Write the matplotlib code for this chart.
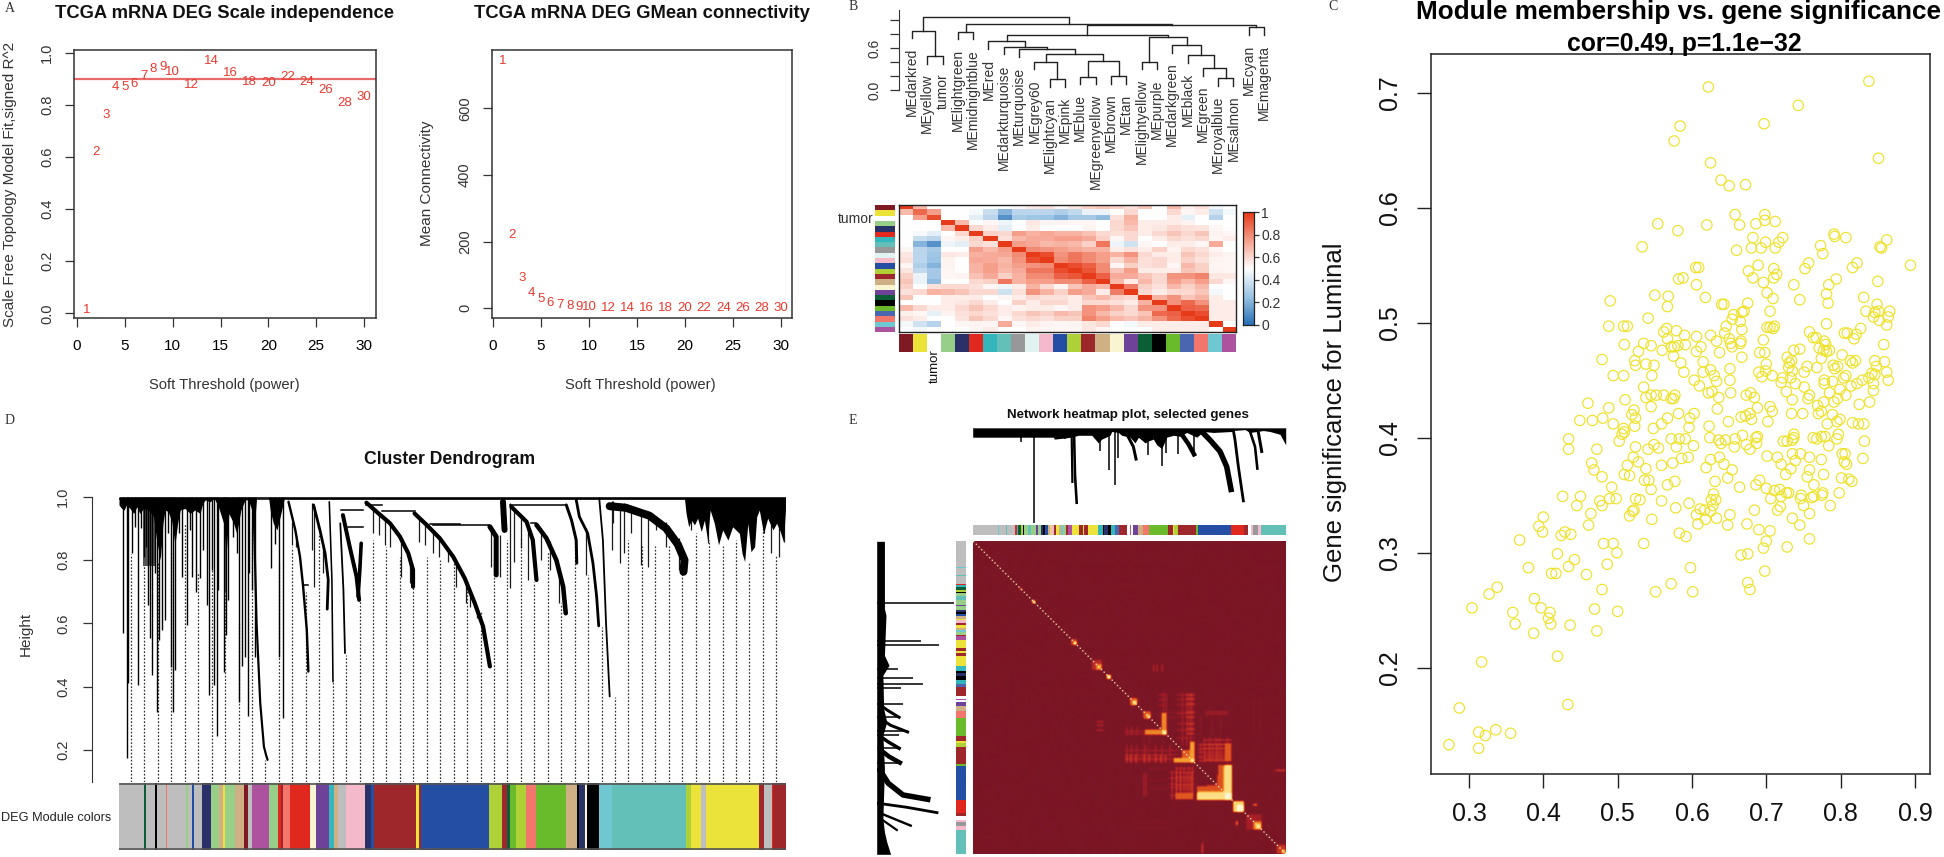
import numpy as np
import matplotlib
matplotlib.use('Agg')
import matplotlib.pyplot as plt
from matplotlib.colors import LinearSegmentedColormap

plt.rcParams['font.family'] = ['Liberation Sans', 'DejaVu Sans']
plt.rcParams['text.color'] = '#1a1a1a'

W, H = 1944, 857
PX = 72 / 100

# ---- panel A
powers = [1, 2, 3, 4, 5, 6, 7, 8, 9, 10, 12, 14, 16, 18, 20, 22, 24, 26, 28, 30]
sft_r2 = [0.014, 0.618, 0.76, 0.867, 0.867, 0.88, 0.91, 0.939, 0.945, 0.926, 0.877, 0.967,
          0.922, 0.889, 0.884, 0.907, 0.887, 0.855, 0.806, 0.831]
mean_k = [741, 220, 92, 47, 28, 15, 10, 7, 3, 3, 2, 1, 1, 0, 0, 0, 0, 0, 0, 0]

# ---- panel B
me_names = ['MEdarkred', 'MEyellow', 'tumor', 'MElightgreen', 'MEmidnightblue', 'MEred',
            'MEdarkturquoise', 'MEturquoise', 'MEgrey60', 'MElightcyan', 'MEpink', 'MEblue',
            'MEgreenyellow', 'MEbrown', 'MEtan', 'MElightyellow', 'MEpurple', 'MEdarkgreen',
            'MEblack', 'MEgreen', 'MEroyalblue', 'MEsalmon', 'MEcyan', 'MEmagenta']
# left node, right node, height (new nodes are numbered from 24)
me_merges = [(1, 2, .486), (0, 24, .848), (3, 4, .833), (22, 23, .895), (9, 10, .152),
             (8, 28, .405), (11, 12, .19), (13, 14, .2), (30, 31, .414), (29, 32, .514),
             (7, 33, .581), (6, 34, .619), (5, 35, .695), (15, 16, .405), (20, 21, .167),
             (19, 38, .31), (18, 39, .5), (17, 40, .643), (37, 41, .752), (36, 42, .786),
             (43, 27, .929), (26, 44, .943), (25, 45, 1.048)]
module_colors = {'grey': '#BEBEBE', 'darkgreen': '#0B5E35', 'salmon': '#F2766B', 'lightgreen': '#98CF88',
                 'midnightblue': '#2A3168', 'blue': '#234EA3', 'tan': '#CFAF84', 'yellow': '#ECE33A',
                 'darkred': '#7F1A25', 'magenta': '#AD529F', 'red': '#E0281F', 'brown': '#9E272B',
                 'lightyellow': '#F9F5D3', 'purple': '#6F429A', 'darkturquoise': '#33B6BC',
                 'turquoise': '#62C0B8', 'grey60': '#989898', 'lightcyan': '#E0F2F2', 'pink': '#F5B9CC',
                 'greenyellow': '#ADD136', 'green': '#69BB2C', 'black': '#000000', 'royalblue': '#4A66B1',
                 'cyan': '#6FC7D2', 'white': '#FFFFFF'}
heat_colors = ['darkred', 'yellow', 'white', 'lightgreen', 'midnightblue', 'red', 'darkturquoise',
               'turquoise', 'grey60', 'lightcyan', 'pink', 'blue', 'greenyellow', 'brown', 'tan',
               'lightyellow', 'purple', 'darkgreen', 'black', 'green', 'royalblue', 'salmon', 'cyan', 'magenta']
# upper triangle of the adjacency heatmap, one row each
adj_rows = [
    [1, .68, .5, .5, .5, .5, .5, .5, .52, .56, .58, .52, .57, .62, .65, .62, .58, .65, .5, .68, .54, .58, .47, .5],
    [.88, .75, .5, .5, .48, .36, .2, .33, .33, .33, .3, .34, .45, .45, .5, .6, .5, .5, .6, .52, .55, .38, .47],
    [.95, .5, .5, .43, .33, .1, .28, .26, .25, .2, .27, .27, .23, .58, .7, .5, .5, .55, .44, .5, .32, .5],
    [1, .68, .5, .52, .46, .5, .56, .53, .53, .52, .52, .5, .6, .68, .55, .55, .55, .53, .5, .5, .5],
    [1, .6, .55, .43, .5, .55, .5, .5, .5, .53, .5, .6, .65, .55, .56, .6, .58, .57, .52, .5],
    [1, .62, .6, .75, .7, .73, .7, .7, .66, .6, .58, .6, .55, .6, .65, .6, .65, .53, .52],
    [1, .58, .68, .72, .72, .75, .75, .72, .62, .52, .6, .5, .55, .6, .58, .6, .52, .55],
    [1, .75, .73, .68, .7, .68, .62, .85, .46, .38, .52, .5, .55, .55, .52, .72, .5],
    [1, .8, .78, .75, .72, .7, .7, .55, .58, .55, .62, .53, .6, .58, .52, .5],
    [1, .95, .78, .85, .8, .75, .7, .78, .6, .55, .55, .65, .6, .55, .53],
    [1, .8, .85, .8, .75, .6, .7, .58, .6, .55, .62, .58, .53, .52],
    [1, .95, .9, .8, .52, .62, .58, .6, .52, .68, .62, .52, .52],
    [1, .93, .8, .65, .75, .55, .55, .55, .65, .62, .53, .52],
    [1, .9, .72, .72, .65, .6, .78, .78, .82, .56, .56],
    [1, .68, .55, .68, .6, .75, .68, .75, .6, .52],
    [1, .83, .62, .58, .68, .62, .68, .5, .5],
    [1, .6, .55, .6, .6, .65, .47, .5],
    [1, .7, .78, .65, .7, .55, .5],
    [1, .78, .88, .78, .55, .55],
    [1, .9, .88, .55, .55],
    [1, .95, .55, .55],
    [1, .55, .55],
    [1, .5],
    [1],
]

# ---- panel C, (module membership, gene significance)
mm_gs = [
    (.622, .705), (.838, .710), (.743, .689), (.697, .673), (.584, .671), (.576, .658), (.851, .643), (.625, .639),
    (.639, .624), (.650, .619), (.672, .620), (.658, .594), (.698, .594), (.712, .588), (.698, .589), (.686, .586),
    (.664, .585), (.620, .585), (.554, .586), (.581, .580), (.791, .577), (.792, .575), (.807, .574), (.862, .572),
    (.853, .566), (.855, .565), (.773, .567), (.776, .560), (.722, .574), (.717, .570), (.712, .565), (.693, .565),
    (.680, .565), (.682, .574), (.699, .570), (.660, .563), (.533, .566), (.894, .550), (.822, .552), (.816, .548),
    (.757, .552), (.752, .547), (.689, .550), (.676, .545), (.682, .539), (.696, .535), (.710, .547), (.714, .542),
    (.710, .539), (.605, .548), (.609, .548), (.582, .538), (.588, .539), (.606, .533), (.794, .538), (.784, .533),
    (.850, .536), (.737, .533), (.701, .526), (.709, .521), (.781, .525), (.745, .520), (.783, .517), (.831, .522),
    (.550, .524), (.568, .523), (.567, .514), (.618, .522), (.490, .519), (.640, .516), (.643, .516), (.675, .517),
    (.670, .510), (.667, .509), (.705, .510), (.849, .516), (.834, .510), (.846, .509), (.851, .510), (.866, .510),
    (.844, .505), (.864, .505), (.852, .502), (.862, .498), (.656, .507), (.654, .503), (.665, .501), (.541, .504),
    (.488, .497), (.508, .497), (.513, .497), (.781, .499), (.827, .495), (.821, .490), (.818, .486), (.805, .491),
    (.809, .491), (.758, .492), (.858, .481), (.711, .497), (.705, .496), (.701, .496), (.709, .495), (.667, .494),
    (.646, .497), (.644, .491), (.566, .495), (.562, .492), (.579, .493), (.590, .489), (.606, .488), (.625, .489),
    (.567, .486), (.650, .486), (.652, .482), (.633, .484), (.591, .481), (.654, .479), (.666, .484), (.665, .482),
    (.696, .485), (.535, .482), (.545, .480), (.509, .481), (.572, .479), (.581, .480), (.576, .479), (.612, .479),
    (.606, .475), (.560, .476), (.528, .475), (.637, .474), (.691, .474), (.698, .474), (.745, .477), (.737, .476),
    (.763, .487), (.767, .487), (.778, .484), (.780, .481), (.771, .478), (.777, .476), (.785, .476), (.781, .475),
    (.774, .469), (.802, .472), (.667, .470), (.575, .471), (.479, .468), (.523, .467), (.524, .463), (.538, .464),
    (.549, .463), (.585, .465), (.615, .466), (.728, .470), (.734, .467), (.731, .465), (.730, .461), (.735, .458),
    (.700, .464), (.755, .462), (.768, .461), (.790, .463), (.792, .460), (.796, .462), (.813, .467), (.820, .467),
    (.816, .465), (.846, .467), (.859, .466), (.848, .462), (.862, .457), (.864, .450), (.651, .460), (.625, .459),
    (.615, .457), (.589, .457), (.546, .454), (.508, .454), (.494, .454), (.690, .457), (.699, .458), (.694, .453),
    (.708, .454), (.751, .457), (.630, .454), (.633, .449), (.651, .450), (.603, .450), (.610, .445), (.722, .452),
    (.733, .452), (.720, .448), (.739, .447), (.751, .444), (.778, .450), (.778, .447), (.789, .449), (.807, .454),
    (.804, .452), (.822, .447), (.829, .450), (.814, .445), (.838, .452), (.842, .456), (.846, .455), (.844, .447),
    (.844, .441), (.799, .442), (.785, .439), (.807, .437), (.796, .434), (.791, .431), (.777, .431), (.839, .431),
    (.825, .429), (.727, .440), (.735, .433), (.758, .437), (.756, .434), (.627, .440), (.622, .439), (.636, .435),
    (.652, .439), (.673, .437), (.679, .439), (.684, .435), (.634, .425), (.535, .444), (.538, .435), (.545, .437),
    (.552, .437), (.562, .437), (.572, .434), (.577, .437), (.575, .434), (.510, .433), (.460, .430), (.488, .426),
    (.545, .427), (.522, .424), (.519, .420), (.524, .417), (.449, .415), (.466, .415), (.480, .417), (.494, .412),
    (.508, .408), (.523, .410), (.548, .408), (.559, .412), (.567, .417), (.582, .421), (.603, .421), (.597, .417),
    (.596, .409), (.623, .410), (.649, .414), (.666, .418), (.672, .419), (.678, .421), (.680, .416), (.688, .426),
    (.705, .427), (.708, .423), (.702, .414), (.734, .421), (.749, .421), (.769, .428), (.770, .421), (.774, .423),
    (.789, .420), (.799, .416), (.795, .414), (.782, .412), (.816, .413), (.824, .412), (.831, .412), (.434, .399),
    (.434, .390), (.472, .390), (.502, .397), (.506, .403), (.509, .405), (.524, .392), (.541, .390), (.549, .394),
    (.555, .391), (.572, .399), (.583, .399), (.591, .399), (.579, .392), (.602, .393), (.624, .400), (.636, .398),
    (.639, .395), (.645, .398), (.658, .399), (.657, .392), (.668, .402), (.673, .394), (.678, .390), (.686, .400),
    (.688, .401), (.687, .395), (.723, .397), (.728, .397), (.735, .398), (.737, .400), (.737, .403), (.763, .400),
    (.768, .399), (.774, .401), (.779, .401), (.795, .399), (.797, .403), (.784, .393), (.832, .397), (.802, .386),
    (.806, .386), (.805, .379), (.808, .377), (.830, .382), (.774, .381), (.758, .383), (.746, .386), (.735, .386),
    (.739, .380), (.720, .377), (.715, .383), (.701, .384), (.733, .373), (.726, .368), (.758, .372), (.755, .366),
    (.777, .368), (.764, .359), (.801, .365), (.811, .364), (.815, .362), (.798, .352), (.786, .341), (.775, .350),
    (.776, .352), (.764, .349), (.761, .348), (.746, .347), (.747, .350), (.750, .341), (.758, .334), (.745, .324),
    (.758, .312), (.735, .330), (.730, .352), (.727, .352), (.720, .349), (.718, .355), (.711, .354), (.700, .356),
    (.706, .347), (.719, .340), (.715, .337), (.691, .363), (.686, .359), (.664, .357), (.684, .337), (.674, .325),
    (.690, .320), (.705, .319), (.700, .310), (.696, .304), (.728, .305), (.675, .299), (.666, .298), (.698, .284),
    (.675, .274), (.678, .268), (.598, .287), (.601, .266), (.572, .273), (.551, .266), (.592, .314), (.583, .317),
    (.535, .308), (.648, .324), (.633, .330), (.651, .333), (.629, .351), (.626, .346), (.632, .346), (.628, .341),
    (.625, .336), (.618, .329), (.608, .325), (.606, .333), (.611, .338), (.617, .337), (.596, .343), (.578, .339),
    (.559, .345), (.546, .329), (.516, .332), (.520, .336), (.522, .337), (.524, .347), (.530, .346), (.545, .355),
    (.536, .363), (.542, .363), (.538, .373), (.528, .379), (.521, .383), (.513, .376), (.509, .368), (.516, .367),
    (.559, .376), (.574, .378), (.586, .382), (.595, .383), (.567, .359), (.577, .362), (.619, .374), (.625, .381),
    (.637, .383), (.643, .377), (.654, .372), (.631, .362), (.648, .365), (.465, .378), (.468, .372), (.479, .366),
    (.492, .357), (.426, .349), (.450, .349), (.445, .341), (.464, .334), (.476, .345), (.479, .341), (.489, .347),
    (.498, .347), (.461, .324), (.400, .331), (.394, .323), (.399, .318), (.429, .318), (.424, .315), (.437, .316),
    (.368, .311), (.481, .308), (.494, .308), (.499, .300), (.419, .299), (.442, .294), (.434, .288), (.380, .287),
    (.486, .290), (.411, .282), (.417, .282), (.458, .281), (.479, .268), (.338, .270), (.327, .264), (.388, .260),
    (.397, .252), (.304, .252), (.359, .248), (.362, .238), (.409, .248), (.407, .243), (.410, .238), (.436, .237),
    (.469, .251), (.500, .249), (.472, .232), (.387, .230), (.419, .210), (.317, .205), (.287, .165), (.433, .168),
    (.313, .144), (.336, .146), (.356, .143), (.322, .141), (.273, .133), (.313, .130),
]

# ---- panel D, positions run along the gene order
dend_spike_pos = [235, 242, 245, 251, 258, 264, 269, 274, 279, 283, 286, 291, 295, 300, 304, 309, 315, 320, 326, 331,
                  335, 341, 347, 357, 363, 366, 374, 382, 387, 395, 399, 404, 409, 414, 417, 427, 432, 435, 444, 452,
                  457, 462, 468, 473, 476, 481, 487, 517, 525, 532, 540]
dend_spike_low = [.569, .175, .413, .821, .905, .405, .90, .81, .842, .658, .553, .437, .758, .319, .548, .579, .611,
                  .884, .462, .319, .453, .884, .748, .595, .895, .748, .70, .742, .832, .658, .374, .769, .406, .243,
                  .705, .446, .564, .674, .874, .821, .353, .464, .495, .306, .758, .705, .495, .775, .85, .495, .30]
dend_band_pos = [227, 232, 237, 241, 248, 255, 261, 267, 274, 283, 293, 299, 306, 311, 315, 321, 328, 334, 339, 344,
                 353, 363, 372, 382, 387, 392, 401, 409, 417, 427, 432, 437, 446, 452, 460, 468, 474, 481, 485, 490,
                 513, 516, 522, 529, 538, 543, 551, 1308, 1311, 1316, 1321, 1327, 1333, 1340, 1346, 1352, 1357, 1365,
                 1373, 1381, 1391, 1400, 1413, 1418, 1423, 1429, 1435, 1442, 1446, 1451, 1459, 1467, 1477, 1484, 1491,
                 1497, 1501]
dend_band_low = [.974, .963, .958, .974, .963, .947, .968, .947, .963, .958, .937, .863, .80, .916, .958, .953, .921,
                 .848, .916, .958, .963, .947, .958, .947, .979, .99, .984, .995, .968, .916, .821, .947, .916, .884,
                 .958, .99, .99, .958, .895, .996, .996, .958, .916, .895, .958, .995, .993, .993, .947, .905, .926,
                 .911, .932, .89, .926, .863, .958, .916, .848, .895, .863, .905, .884, .821, .795, .916, .826, .842,
                 .937, .958, .884, .932, .895, .916, .89, .858, .958]
# thin hairs under the drooping branches
hair_pos = [557, 565, 595, 600, 608, 616, 713, 724, 735, 745, 767, 783, 800, 811, 827, 839, 856, 871, 891, 897, 911,
            939, 955, 974, 983, 996, 1009, 1034, 1050, 1069, 1119, 1171, 1169, 1184, 1193, 1206, 1225, 1238, 1254,
            1272, 1286, 1298, 1321, 1352, 1459, 1473, 1489, 1498]
hair_top = [.92, .88, .98, .97, .92, .85, .96, .95, .93, .916, .87, .80, .935, .915, .89, .87, .83, .80, .73, .71, .65,
            .90, .88, .98, .96, .94, .92, .885, .86, .76, .90, .985, .985, .98, .98, .97, .96, .955, .94, .92, .89,
            .87, .95, .95, .95, .95, .95, .95]
hair_low = [.848, .842, .832, .716, .90, .758, .884, .879, .848, .842, .748, .727, .858, .848, .821, .81, .795, .716,
            .664, .653, .616, .779, .748, .711, .795, .837, .737, .80, .769, .664, .753, .916, .832, .79, .821, .884,
            .784, .779, .895, .842, .874, .769, .895, .853, .884, .821, .81, .858]
# drooping branches: (positions), (heights), thickness in px
dend_arcs = [
    ([484, 490, 497, 504, 508, 511], [.99, .60, .348, .211, .185, .169], 2.2),
    ([551, 564, 573, 579, 586, 589], [.984, .895, .81, .716, .579, .448], 2.4),
    ([599, 611, 621, 627, 625], [.974, .895, .821, .737, .645], 2.8),
    ([629, 634, 636], [.984, .737, .416], 1.6),
    ([650, 656, 659], [.916, .705, .506], 1.8),
    ([655, 668, 681, 686], [.942, .842, .748, .674], 4.0),
    ([690, 687, 684], [.853, .758, .685], 3.6),
    ([700, 719, 745, 764, 780, 789, 789], [.981, .953, .916, .874, .821, .769, .716], 4.2),
    ([792, 815, 840, 866, 888, 907, 923, 936], [.947, .911, .869, .81, .742, .664, .59, .464], 4.2),
    ([936, 948, 948], [.905, .874, .753], 5.0),
    ([961, 964], [.984, .895], 6.0),
    ([977, 1006, 1018, 1025], [.968, .921, .863, .737], 4.2),
    ([1025, 1044, 1063, 1076, 1081], [.911, .869, .80, .716, .632], 4.6),
    ([1082, 1092, 1101, 1102], [.974, .926, .863, .79], 3.0),
    ([1101, 1107, 1123, 1133, 1140, 1144], [.99, .937, .884, .79, .685, .592], 2.8),
    ([1145, 1152, 1158, 1165], [.995, .863, .60, .369], 1.8),
    ([1165, 1196, 1241, 1273, 1295, 1308, 1306], [.97, .965, .94, .90, .85, .80, .763], 8.0),
]
dend_links = [(227, 1500, .994), (652, 694, .958), (665, 694, .905), (729, 792, .956), (821, 878, .914),
              (827, 934, .911), (974, 1082, .974), (1015, 1025, .916), (1397, 1445, .979), (1407, 1442, .953),
              (579, 589, .722), (700, 729, .975)]
dend_hatch = [(272, 296, .98, .78), (427, 434, .98, .70)]
guide_top = [.82, .82, .795, .83, .916, .76, .77, .70, .60, .90, .17, .79, .84, .70, .88, .42, .50,
             .674, .863, .84, .81, .716, .81, .80, .79, .737, .64, .81, .863, .874, .73, .83, .664, .88,
             .753, .59, .369, .863, .843, .843, .843, .769, .884, .863, .843, .863, .795, .905, .816, .853]
dend_bar_end = [275, 278, 296, 299, 317, 319, 355, 358, 367, 370, 386, 402, 418, 425, 430, 448, 465, 474, 482, 513,
                530, 536, 540, 553, 592, 603, 628, 638, 645, 660, 672, 698, 708, 715, 795, 800, 805, 935, 960, 968,
                975, 985, 1005, 1025, 1082, 1102, 1107, 1118, 1122, 1145, 1170, 1310, 1320, 1340, 1350, 1450, 1460,
                1475, 1478, 1502]
dend_bar_col = ['grey', 'darkgreen', 'grey', 'black', 'grey', 'salmon', 'grey', 'lightgreen', 'grey', 'blue', 'grey',
                'midnightblue', 'lightgreen', 'tan', 'yellow', 'lightgreen', 'tan', 'darkred', 'grey', 'magenta',
                'lightgreen', 'red', 'brown', 'salmon', 'red', 'lightyellow', 'purple', 'darkturquoise', 'tan', 'grey',
                'pink', 'pink', 'midnightblue', 'blue', 'brown', 'yellow', 'brown', 'blue', 'greenyellow', 'brown',
                'darkgreen', 'green', 'greenyellow', 'salmon', 'green', 'tan', 'black', 'midnightblue', 'lightyellow',
                'black', 'cyan', 'turquoise', 'greenyellow', 'yellow', 'grey', 'yellow', 'brown', 'grey', 'red', 'brown']

# ---- panel E, positions run 458..1397 along both sides
e_bar_end = [535, 538, 558, 561, 585, 590, 595, 603, 610, 613, 623, 633, 648, 653, 663, 670, 676, 683, 690, 694, 703,
             708, 718, 723, 730, 738, 743, 755, 778, 788, 793, 803, 808, 833, 848, 853, 863, 873, 886, 896, 922, 930,
             934, 940, 953, 968, 988, 1005, 1043, 1058, 1063, 1075, 1090, 1127, 1133, 1233, 1273, 1283, 1293, 1300,
             1313, 1323, 1397]
e_bar_col = ['grey', 'cyan', 'grey', 'turquoise', 'grey', 'red', 'darkturquoise', 'darkgreen', 'greenyellow', 'black',
             'lightgreen', 'turquoise', 'lightgreen', 'purple', 'lightgreen', 'midnightblue', 'black', 'blue', 'tan',
             'yellow', 'pink', 'brown', 'yellow', 'tan', 'cyan', 'lightgreen', 'brown', 'magenta', 'yellow', 'brown',
             'yellow', 'brown', 'yellow', 'yellow', 'darkturquoise', 'black', 'midnightblue', 'black', 'darkturquoise',
             'royalblue', 'brown', 'white', 'magenta', 'white', 'purple', 'tan', 'salmon', 'green', 'green', 'brown',
             'yellow', 'greenyellow', 'brown', 'brown', 'green', 'blue', 'red', 'brown', 'white', 'pink', 'grey60',
             'pink', 'turquoise']
top_band_pos = [458, 700, 703, 730, 752, 775, 815, 820, 835, 845, 870, 875, 895, 905, 930, 945, 955, 975, 985, 1000,
                1010, 1025, 1040, 1060, 1080, 1100, 1130, 1150, 1180, 1235, 1238, 1275, 1290, 1330, 1350, 1380, 1397]
top_band_low = [.10, .10, .12, .11, .10, .08, .08, .10, .16, .12, .08, .04, .05, .08, .10, .16, .10, .16, .14, .12,
                .18, .22, .10, .08, .09, .05, .10, .04, .05, .04, .03, .02, .05, .03, .04, .07, .18]
top_spike_pos = [603, 641, 735, 840, 868, 885, 895, 985, 1027, 1037, 1075, 1122]
top_spike_low = [.154, 1.0, .12, .25, .45, .60, .32, .29, .40, .27, .28, .29]
top_arcs = [([755, 757], [.10, .57], 2.2), ([762, 765, 770], [.05, .50, .79], 2.6),
            ([925, 940, 948], [.10, .20, .33], 3.0), ([1085, 1105, 1122], [.07, .17, .28], 4.5),
            ([1145, 1170, 1200, 1220, 1233], [.04, .13, .25, .41, .65], 5.5),
            ([1240, 1245, 1255, 1270], [.03, .13, .41, .77], 2.8),
            ([1290, 1305, 1312], [.04, .20, .43], 2.6), ([1315, 1325], [.05, .25], 3.0)]
left_band_pos = [458, 660, 680, 800, 830, 860, 960, 1000, 1040, 1140, 1290, 1330, 1360, 1397]
left_band_low = [.10, .10, .12, .10, .16, .08, .09, .13, .08, .10, .08, .10, .13, .18]
left_spike_pos = [644, 756, 769, 842, 869, 887, 899, 947, 986, 1027, 1039, 1079, 1122]
left_spike_low = [1.0, .57, .80, .27, .47, .60, .32, .34, .29, .40, .29, .29, .30]
left_arcs = [([1144, 1184, 1219, 1232], [.04, .15, .34, .66], 5.5),
             ([1244, 1256, 1272], [.02, .39, .78], 2.8), ([1274, 1311], [.05, .44], 2.4), ([1290, 1324], [.05, .26], 2.2),
             ([1044, 1060, 1079], [.05, .15, .29], 3.5), ([1084, 1104, 1122], [.05, .16, .30], 4.5),
             ([990, 1010, 1030], [.05, .18, .40], 3.0), ([950, 965, 986], [.05, .14, .29], 3.0)]
# (u0, u1, v0, v1, value), drawn mirrored too
hot_blocks = [
    (1025, 1040, 974, 1039, .55), (975, 1040, 1024, 1039, .55), (1031, 1040, 1027, 1039, .95),
    (1110, 1122, 1064, 1124, .62), (1060, 1122, 1109, 1124, .58), (1085, 1122, 1085, 1124, .42), (1112, 1122, 1112, 1124, .85),
    (1210, 1235, 1134, 1236, .72), (1130, 1235, 1214, 1236, .84), (1130, 1210, 1194, 1214, .40), (1190, 1235, 1160, 1214, .30),
    (1215, 1235, 1216, 1236, 1.0), (1240, 1270, 1239, 1272, .78), (1252, 1270, 1250, 1272, 1.0),
    (1280, 1325, 1279, 1324, .18), (1300, 1325, 1300, 1324, .55), (1308, 1322, 1308, 1322, .85),
    (1370, 1397, 1370, 1397, .30), (1385, 1397, 1385, 1397, .72),
    (930, 947, 929, 952, .45), (938, 947, 940, 950, .85), (970, 988, 969, 992, .42), (980, 988, 982, 992, .75),
    (755, 770, 752, 770, .35), (760, 769, 760, 770, .88), (818, 845, 815, 845, .25), (828, 845, 830, 845, .6),
    (860, 872, 860, 872, .95), (636, 645, 636, 645, .95), (600, 606, 598, 604, .4),
    (1065, 1120, 1214, 1234, .42), (1145, 1150, 1364, 1394, .26), (1370, 1397, 1144, 1149, .32),
    (1246, 1250, 1300, 1312, .38), (1298, 1312, 1250, 1254, .42),
]
# module stripes crossing the large blocks, (u0, u1, list of v, value)
hot_stripes = [
    (1150, 1235, [1054, 1066, 1078, 1098, 1112], .30),
    (1065, 1120, [1140, 1152, 1165, 1176, 1190, 1202], .22),
    (1070, 1125, [918, 932, 948, 974, 1004, 1024, 1048], .20),
    (915, 1040, [1100, 1107, 1115], .18), (830, 850, [999, 1009, 1024], .28),
    (1015, 1040, [918, 932, 950], .20), (1155, 1225, [969, 976], .20),
    (985, 1040, [1140, 1175, 1200], .07), (940, 1040, [1298, 1320], .05),
]
# same blocks crossed the other way, (list of u, v0, v1, value)
hot_stripes_v = [
    ([1068, 1080, 1090, 1105, 1116], 1134, 1234, .30), ([1150, 1168, 1186, 1196, 1220], 1048, 1124, .20),
    ([918, 930, 945, 970, 985, 1005, 1020, 1035], 1099, 1124, .34), ([1085, 1098, 1110], 914, 1074, .20),
    ([1036, 1028], 914, 974, .18), ([970, 985], 1045, 1100, .10),
]

e_grid = np.zeros((940, 940))


def paint(u0, u1, v0, v1, val):
    a, b, c, d = u0 - 458, u1 - 458, v0 - 458, v1 - 458
    e_grid[c:d, a:b] = np.maximum(e_grid[c:d, a:b], val)
    e_grid[a:b, c:d] = np.maximum(e_grid[a:b, c:d], val)


def add_ax(left, top, right, bottom):
    return fig.add_axes([left / W, 1 - bottom / H, (right - left) / W, (bottom - top) / H])


def txt(x, y, s, size, **kw):
    kw.setdefault('ha', 'center')
    kw.setdefault('va', 'center')
    fig.text(x / W, 1 - y / H, s, fontsize=size, **kw)


def color_segments(ax, ends, cols, start, vertical=False):
    # one span per colour run of a module bar
    prev = start
    for e, c in zip(ends, cols):
        if vertical:
            ax.axhspan(prev, e, color=module_colors[c], lw=0)
        else:
            ax.axvspan(prev, e, color=module_colors[c], lw=0)
        prev = e


fig = plt.figure(figsize=(W / 100, H / 100), dpi=100)

# ==================== A
for i, (vals, box, xl, yl, yt, ylab, ylab_x, ticklab_x, tit, tit_x, lab_x) in enumerate([
    (sft_r2, (74, 50, 376, 318), (-.31, 31.25), (-.018, 1.01), [0, .2, .4, .6, .8, 1.0],
     'Scale Free Topology Model Fit,signed R^2', 10, 47, 'TCGA mRNA DEG Scale independence', 224, 224.6),
    (mean_k, (492, 50, 792, 318), (-.1, 31.15), (-29, 775), [0, 200, 400, 600],
     'Mean Connectivity', 427, 465, 'TCGA mRNA DEG GMean connectivity', 642, 640.6),
]):
    ax = add_ax(*box)
    ax.set_xlim(*xl)
    ax.set_ylim(*yl)
    for p, v in zip(powers, vals):
        ax.text(p, v, str(p), color='#E8392F', fontsize=9.5, ha='center', va='center')
    if i == 0:
        ax.axhline(0.9, color='#E86A6A', lw=1.6)
    ax.set_xticks([0, 5, 10, 15, 20, 25, 30])
    ax.set_yticks(yt)
    ax.tick_params(length=9 * PX, width=.9, color='#333333', labelsize=11, pad=9)
    ax.set_yticklabels([])
    for t in yt:
        lab = f'{t:.1f}' if i == 0 else str(t)
        y_px = box[3] - (t - yl[0]) / (yl[1] - yl[0]) * (box[3] - box[1])
        txt(ticklab_x, y_px, lab, 10.5, rotation=90, color='#333333')
    for s in ax.spines.values():
        s.set_linewidth(1.1)
        s.set_color('#333333')
    txt(ylab_x, 184 if i == 0 else 183, ylab, 11, rotation=90, color='#333333')
    txt(tit_x, 13, tit, 13.2, fontweight='bold', color='#111111')
    txt(lab_x, 385, 'Soft Threshold (power)', 10.6, color='#333333')

# ==================== B dendrogram
ax = add_ax(904.3, 10, 1271.7, 90)
ax.set_xlim(-.5, 23.5)
ax.set_ylim(0, 1.143)
node_x = {i: float(i) for i in range(24)}
node_h = {}
drop = .11
for k, (a, b, h) in enumerate(me_merges):
    xa, xb = node_x[a], node_x[b]
    ya = node_h.get(a, h - drop)
    yb = node_h.get(b, h - drop)
    ax.plot([xa, xa, xb, xb], [ya, h, h, yb], color='#222222', lw=1.0, clip_on=False)
    node_x[24 + k] = (xa + xb) / 2
    node_h[24 + k] = h
    for n, ny in ((a, ya), (b, yb)):
        if n < 24:
            ax.text(n, ny - .14, me_names[n], rotation=90, ha='center', va='top', fontsize=10,
                    color='#333333', clip_on=False)
for s in ('top', 'right', 'bottom'):
    ax.spines[s].set_visible(False)
ax.spines['left'].set_position(('outward', 5.6 * PX))
ax.spines['left'].set_color('#333333')
ax.set_xticks([])
ax.set_yticks([0, .2, .4, .6, .8, 1.0])
ax.set_yticklabels([])
ax.tick_params(axis='y', length=8.7 * PX, width=.9, color='#333333')
txt(874, 90, '0.0', 10, rotation=90, color='#333333')
txt(874, 48, '0.6', 10, rotation=90, color='#333333')
ax.patch.set_alpha(0)

# ==================== B heatmap
adj = np.zeros((24, 24))
for r, row in enumerate(adj_rows):
    for off, v in enumerate(row):
        adj[r, r + off] = v
        adj[r + off, r] = v
bwr = LinearSegmentedColormap.from_list('bwr2', [(0, '#2a72b8'), (.25, '#9cc4e4'), (.5, '#ffffff'),
                                                 (.75, '#f6a08c'), (1, '#e63a18')])
ax = add_ax(898.7, 205, 1236, 332.3)
ax.imshow(adj, cmap=bwr, vmin=0, vmax=1, aspect='auto', interpolation='nearest')
ax.set_xticks([])
ax.set_yticks([])
for s in ax.spines.values():
    s.set_linewidth(1.0)
    s.set_color('#222222')
ax = add_ax(875, 205, 895.3, 332.3)
ax.set_xlim(0, 1)
ax.set_ylim(24, 0)
ax.axis('off')
for i, c in enumerate(heat_colors):
    ax.axhspan(i, i + 1, color=module_colors[c], lw=0)
ax = add_ax(898.7, 334, 1236, 351.7)
ax.set_xlim(0, 24)
ax.set_ylim(0, 1)
ax.axis('off')
for i, c in enumerate(heat_colors):
    ax.axvspan(i, i + 1, color=module_colors[c], lw=0)
txt(856, 219, 'tumor', 10, color='#333333')
txt(935, 366, 'tumor', 9.5, rotation=90, color='#111111', va='center')
ax = add_ax(1243, 212, 1254, 324.7)
ax.imshow(np.linspace(1, 0, 100)[:, None], cmap=bwr, aspect='auto', extent=(0, 1, 0, 1))
ax.set_xticks([])
ax.yaxis.tick_right()
ax.set_yticks([0, .2, .4, .6, .8, 1])
ax.set_yticklabels(['0', '0.2', '0.4', '0.6', '0.8', '1'], fontsize=10, color='#333333')
ax.tick_params(axis='y', length=5 * PX, width=.9, pad=1.5, color='#333333')
for s in ax.spines.values():
    s.set_linewidth(.9)
    s.set_color('#222222')

# ==================== C
mm = [p[0] for p in mm_gs]
gs = [p[1] for p in mm_gs]
ax = add_ax(1431, 53.7, 1929.6, 774.3)
ax.scatter(mm, gs, s=56, facecolors='none', edgecolors='#EFE22A', linewidths=.85, clip_on=True)
ax.set_xlim(.3 - (1469 - 1431) / 743.3, .3 + (1929.6 - 1469) / 743.3)
ax.set_ylim(.2 - (774.3 - 667.7) / 1150, .7 + (92.7 - 53.7) / 1150)
ax.set_xticks([.3, .4, .5, .6, .7, .8, .9])
ax.set_yticks([.2, .3, .4, .5, .6, .7])
ax.set_xticklabels(['0.3', '0.4', '0.5', '0.6', '0.7', '0.8', '0.9'], fontsize=18, color='#111111')
ax.set_yticklabels([])
ax.tick_params(length=14 * PX, width=1, color='#222222')
ax.tick_params(axis='x', pad=10)
for t in [.2, .3, .4, .5, .6, .7]:
    txt(1389.5, 667.7 - (t - .2) * 1150, f'{t:.1f}', 18, rotation=90, color='#111111')
for s in ax.spines.values():
    s.set_linewidth(1.1)
    s.set_color('#222222')
txt(1335, 412, 'Gene significance for Luminal', 18.5, rotation=90, color='#111111')
txt(1678, 12, 'Module membership vs. gene significance', 18.8, fontweight='bold', color='#000000')
txt(1684, 44, 'cor=0.49, p=1.1e\u221232', 17.8, fontweight='bold', color='#000000')

# ==================== D
ax = add_ax(119, 496.7, 786, 781.7)
ax.set_xlim(227, 1502)
ax.set_ylim(.1, 1.0)
guide_pos = np.arange(250, 1502, 25.7)
for g, t in zip(guide_pos, guide_top):
    ax.plot([g, g], [.1, t], color='#333333', lw=.9, ls=(0, (1.4, 1.4)), zorder=1)
for x0, x1, y0, y1 in dend_hatch:
    ax.fill_between([x0, x1], y1, y0, color='#555555', lw=0, zorder=2)
ax.vlines(dend_spike_pos, dend_spike_low, 1.0, color='black', lw=1.0, zorder=2)
ax.vlines(hair_pos, hair_low, hair_top, color='#1a1a1a', lw=.9, zorder=2)
ax.fill_between(dend_band_pos, dend_band_low, 1.0, color='black', lw=0, zorder=3)
for xs, ys, th in dend_arcs:
    ax.plot(xs, ys, color='black', lw=th * PX, zorder=3, solid_capstyle='round')
for x0, x1, h in dend_links:
    ax.plot([x0, x1], [h, h], color='black', lw=1.1, zorder=3)
ax.patch.set_alpha(0)
for s in ('top', 'right', 'bottom'):
    ax.spines[s].set_visible(False)
ax.spines['left'].set_position(('outward', 27.4 * PX))
ax.spines['left'].set_color('#333333')
ax.set_xticks([])
ax.set_yticks([.2, .4, .6, .8, 1.0])
ax.set_yticklabels([])
ax.tick_params(axis='y', length=9 * PX, width=.9, color='#333333')
for t in [.2, .4, .6, .8, 1.0]:
    txt(63, 496.7 + (1 - t) * 317, f'{t:.1f}', 10.5, rotation=90, color='#333333')
txt(26, 634, 'Height', 11, rotation=90, color='#333333')
txt(450, 459, 'Cluster Dendrogram', 12.7, fontweight='bold', color='#111111')
txt(56, 818, 'DEG Module colors', 9.2, color='#222222')
ax = add_ax(119, 783, 786, 850)
ax.set_xlim(227, 1502)
ax.set_ylim(0, 1)
ax.axis('off')
color_segments(ax, dend_bar_end, dend_bar_col, 227)
ax.axhline(.985, color='#555555', lw=1.2)
ax.axhline(.015, color='#555555', lw=1.2)

# ==================== E
ax = add_ax(972.7, 427.7, 1285.7, 522.7)
ax.set_xlim(458, 1397)
ax.set_ylim(1, 0)
ax.axis('off')
ax.fill_between(top_band_pos, 0, top_band_low, color='black', lw=0)
ax.vlines(top_spike_pos, 0, top_spike_low, color='black', lw=1.1)
for xs, ys, th in top_arcs:
    ax.plot(xs, ys, color='black', lw=th * PX)
ax.axhline(0, color='#555555', lw=.8)

ax = add_ax(876.7, 541.3, 954, 854.3)
ax.set_xlim(0, 1)
ax.set_ylim(1397, 458)
ax.axis('off')
ax.fill_betweenx(left_band_pos, 0, left_band_low, color='black', lw=0)
ax.hlines(left_spike_pos, 0, left_spike_low, color='black', lw=1.1)
for ys, xs, th in left_arcs:
    ax.plot(xs, ys, color='black', lw=th * PX)

ax = add_ax(972.7, 525.3, 1285.7, 535.3)
ax.set_xlim(458, 1397)
ax.set_ylim(0, 1)
ax.axis('off')
color_segments(ax, e_bar_end, e_bar_col, 458)
ax = add_ax(955.7, 541.3, 966.3, 854.3)
ax.set_xlim(0, 1)
ax.set_ylim(1397, 458)
ax.axis('off')
color_segments(ax, e_bar_end, e_bar_col, 458, vertical=True)

for b in hot_blocks:
    paint(*b)
for u0, u1, vs, val in hot_stripes:
    for v in vs:
        paint(u0, u1, v, v + 4, val)
for us, v0, v1, val in hot_stripes_v:
    for u in us:
        paint(u, u + 4, v0, v1, val)
# soften the blocks a little, the reference is a resampled image
kernel = np.ones(7) / 7
e_grid = np.apply_along_axis(lambda r: np.convolve(r, kernel, mode='same'), 0, e_grid)
e_grid = np.apply_along_axis(lambda r: np.convolve(r, kernel, mode='same'), 1, e_grid)
for d in range(0, 940, 8):
    e_grid[d:d + 4, d:d + 4] = .93
hot = LinearSegmentedColormap.from_list('hot2', [(0, '#7B1625'), (.18, '#A81E28'), (.38, '#DB4A1E'),
                                                 (.6, '#F29A2A'), (.8, '#FBD870'), (1, '#FFF8D8')])
ax = add_ax(972.7, 541.3, 1285.7, 854.3)
ax.imshow(e_grid, cmap=hot, vmin=0, vmax=1, aspect='auto', interpolation='antialiased')
ax.axis('off')
txt(1128, 415, 'Network heatmap plot, selected genes', 9.6, fontweight='bold', color='#111111')

# panel letters
for x, y, s in [(10, 8, 'A'), (853, 7, 'B'), (1333, 7, 'C'), (10, 421, 'D'), (853, 421, 'E')]:
    txt(x, y, s, 10, family='Liberation Serif', color='#333333')

fig.savefig('out.png', dpi=100)
